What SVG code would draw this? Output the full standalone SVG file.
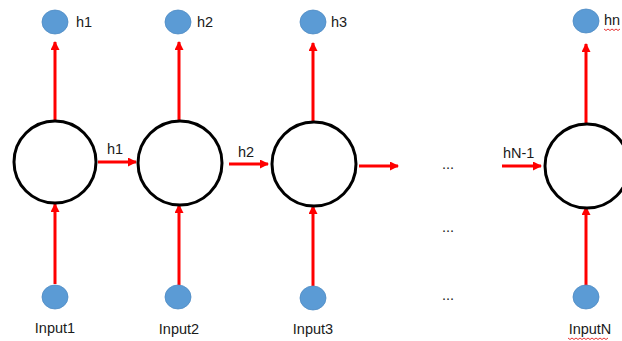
<svg xmlns="http://www.w3.org/2000/svg" width="622" height="341" viewBox="0 0 622 341">
<defs>
<marker id="ah" markerWidth="9" markerHeight="9" refX="8" refY="4.5" orient="auto" markerUnits="userSpaceOnUse">
<path d="M0,0 L9,4.5 L0,9 Z" fill="#FF0000"/>
</marker>
<style>
.cell{fill:#fff;stroke:#000;stroke-width:3}
.dot{fill:#5B9BD5;stroke:#4F8BC4;stroke-width:0.8}
.arr{stroke:#FF0000;stroke-width:3;fill:none;marker-end:url(#ah)}
text{font-family:"Liberation Sans",Arial,sans-serif;font-size:14.5px;fill:#1a1a1a}
.sq{stroke:#E00000;stroke-width:0.8;fill:none}
</style>
</defs>
<rect width="622" height="341" fill="#fff"/>
<g id="connectors">
<line class="arr" x1="55" y1="120" x2="55" y2="42"/>
<line class="arr" x1="55" y1="284" x2="55" y2="204"/>
<line class="arr" x1="98" y1="162" x2="136" y2="162"/>
<line class="arr" x1="179" y1="121" x2="179" y2="42"/>
<line class="arr" x1="179" y1="285" x2="179" y2="205"/>
<line class="arr" x1="229" y1="164" x2="268" y2="164"/>
<line class="arr" x1="313" y1="122" x2="313" y2="43"/>
<line class="arr" x1="313" y1="286" x2="313" y2="206"/>
<line class="arr" x1="359" y1="166" x2="398" y2="166"/>
<line class="arr" x1="502" y1="166" x2="541" y2="166"/>
<line class="arr" x1="586" y1="124" x2="586" y2="44"/>
<line class="arr" x1="586" y1="286" x2="586" y2="207"/>
<text x="107" y="154">h1</text>
<text x="238" y="157">h2</text>
<text x="503" y="158">hN-1</text>
</g>
<g id="cell1"><circle class="cell" cx="55" cy="162" r="41"/></g>
<g id="cell2"><circle class="cell" cx="180" cy="163" r="42"/></g>
<g id="cell3"><circle class="cell" cx="314" cy="164" r="42"/></g>
<g id="cellN"><circle class="cell" cx="587" cy="166" r="42"/></g>
<g id="out1"><ellipse class="dot" cx="55" cy="22" rx="13" ry="12"/><text x="76" y="27">h1</text></g>
<g id="out2"><ellipse class="dot" cx="178" cy="22" rx="13" ry="12"/><text x="197" y="27">h2</text></g>
<g id="out3"><ellipse class="dot" cx="313" cy="22" rx="13" ry="12"/><text x="331" y="27">h3</text></g>
<g id="outN"><ellipse class="dot" cx="586" cy="21" rx="13" ry="12"/><text x="604" y="25">hn</text><path class="sq" d="M604,29 l2,1.5 l2,-1.5 l2,1.5 l2,-1.5 l2,1.5 l2,-1.5 l2,1.5 l2,-1.5"/></g>
<g id="in1"><ellipse class="dot" cx="55" cy="297" rx="13" ry="12"/><text x="55" y="333" text-anchor="middle">Input1</text></g>
<g id="in2"><ellipse class="dot" cx="178" cy="297" rx="13" ry="12"/><text x="179" y="334" text-anchor="middle">Input2</text></g>
<g id="in3"><ellipse class="dot" cx="313" cy="298" rx="13" ry="12"/><text x="313" y="334" text-anchor="middle">Input3</text></g>
<g id="inN"><ellipse class="dot" cx="586" cy="297" rx="13" ry="12"/><text x="590" y="334" text-anchor="middle">InputN</text><path class="sq" d="M568,338 l2,1.5 l2,-1.5 l2,1.5 l2,-1.5 l2,1.5 l2,-1.5 l2,1.5 l2,-1.5 l2,1.5 l2,-1.5 l2,1.5 l2,-1.5 l2,1.5 l2,-1.5 l2,1.5 l2,-1.5 l2,1.5 l2,-1.5 l2,1.5 l2,-1.5"/></g>
<g id="ellipses">
<text x="448" y="169" text-anchor="middle">...</text>
<text x="448" y="232" text-anchor="middle">...</text>
<text x="448" y="300" text-anchor="middle">...</text>
</g>
</svg>
